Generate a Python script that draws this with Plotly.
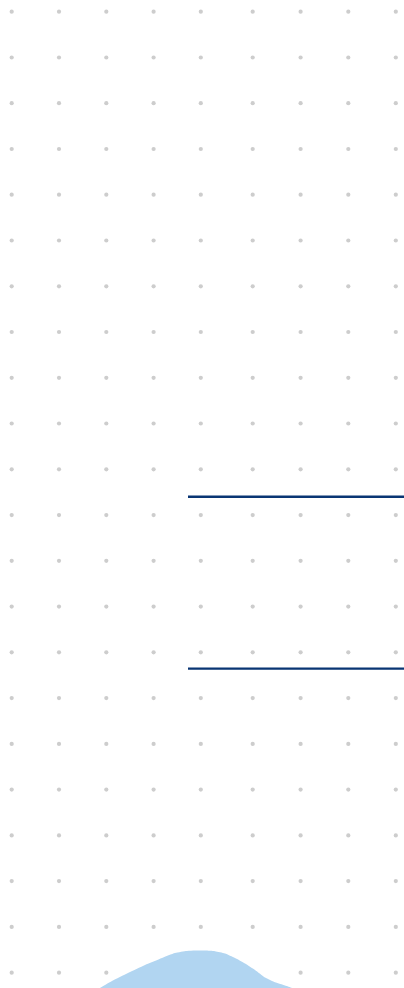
import plotly.graph_objects as go

# Dot-grid columns and rows (pixel units of the canvas)
grid_cols = [11.7, 59.0, 106.3, 153.6, 200.8, 252.7, 300.6, 348.3, 395.8]
grid_rows = [11.7, 57.5, 103.2, 149.0, 194.7, 240.5, 286.3, 332.0, 377.8, 423.5,
             469.3, 515.1, 560.8, 606.6, 652.3, 698.1, 743.9, 789.6, 835.4, 881.1,
             926.9, 972.7]

# Horizontal reference lines
line_levels = [496.7, 668.6]
line_start = 188
line_end = 404

# Light-blue hump profile
hump_x = [98, 100, 112, 128, 145, 162, 175, 187, 195, 205, 215, 225, 235, 245,
          255, 265, 272, 278, 285, 292, 296]
hump_y = [990, 988, 981, 973, 965, 958, 953, 951, 950.6, 950.6, 951.2, 953.5,
          958, 963.5, 970, 977.5, 981, 983.3, 985.5, 988, 990]

W, H = 404, 988

fig = go.Figure()

gx = [c for r in grid_rows for c in grid_cols]
gy = [r for r in grid_rows for c in grid_cols]
fig.add_trace(go.Scatter(
    x=gx, y=gy, mode="markers",
    marker=dict(size=4.2, color="#cdcdcd", line=dict(width=0)),
    hoverinfo="skip", showlegend=False))

for lv in line_levels:
    fig.add_trace(go.Scatter(
        x=[line_start, line_end], y=[lv, lv], mode="lines",
        line=dict(color="#093573", width=2.4),
        hoverinfo="skip", showlegend=False))

fig.add_trace(go.Scatter(
    x=hump_x + [hump_x[-1], hump_x[0]],
    y=hump_y + [1000, 1000],
    mode="lines", fill="toself", fillcolor="#b1d5f1",
    line=dict(color="#b1d5f1", width=0, shape="spline", smoothing=0.6),
    hoverinfo="skip", showlegend=False))

fig.update_layout(
    width=W, height=H,
    margin=dict(l=0, r=0, t=0, b=0),
    paper_bgcolor="white", plot_bgcolor="white",
    xaxis=dict(range=[0, W], visible=False, fixedrange=True),
    yaxis=dict(range=[H, 0], visible=False, fixedrange=True),
)

fig.write_html(
    "out.html",
    config={"displayModeBar": False},
    post_script="document.body.style.margin='0';document.body.style.padding='0';"
                "document.body.style.overflow='hidden';"
                "document.documentElement.style.overflow='hidden';",
)
